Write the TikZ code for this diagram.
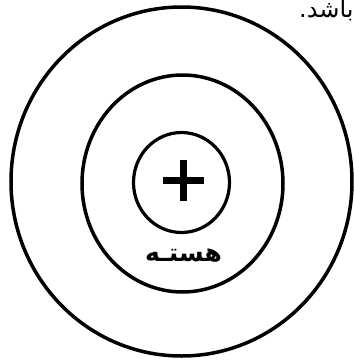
\documentclass[tikz,border=0pt]{standalone}
\usepackage{fontspec}
\usetikzlibrary{shapes.geometric}
\newfontfamily\arabicfont[Script=Arabic]{DejaVu Sans}
\newfontfamily\arabicbold[Script=Arabic]{DejaVu Sans Bold}
\TeXXeTstate=1
\begin{document}
\begin{tikzpicture}[x=1pt,y=-1pt,
  shell/.style={ellipse,draw=black,line width=3.5pt,inner sep=0pt,outer sep=0pt},
  plusbar/.style={line width=7pt,black},
  lbl/.style={inner sep=0pt,outer sep=0pt}]
\useasboundingbox[fill=white] (0,0) rectangle (354,360);
\node[shell,minimum width=341pt,minimum height=349pt] (outer) at (181.5,181.5) {};
\node[shell,minimum width=201pt,minimum height=217pt] (middle) at (182.5,183.5) {};
\node[shell,minimum width=96pt,minimum height=100pt,line width=3.2pt] (nucleus) at (181.5,182.5) {};
\coordinate (pc) at (183.5,180);
\draw[plusbar] ([xshift=-20.5pt]pc) -- ([xshift=20.5pt]pc);
\draw[plusbar] ([yshift=-20.5pt]pc) -- ([yshift=20.5pt]pc);
\node[lbl,anchor=center] (label) at (183.5,255.5) {\arabicbold\fontsize{25}{28}\selectfont\beginR هستـه\endR};
\node[lbl,anchor=base east] (toptext) at (353.5,17) {\arabicfont\fontsize{24}{26}\selectfont\beginR باشد.\endR};
\end{tikzpicture}
\end{document}
